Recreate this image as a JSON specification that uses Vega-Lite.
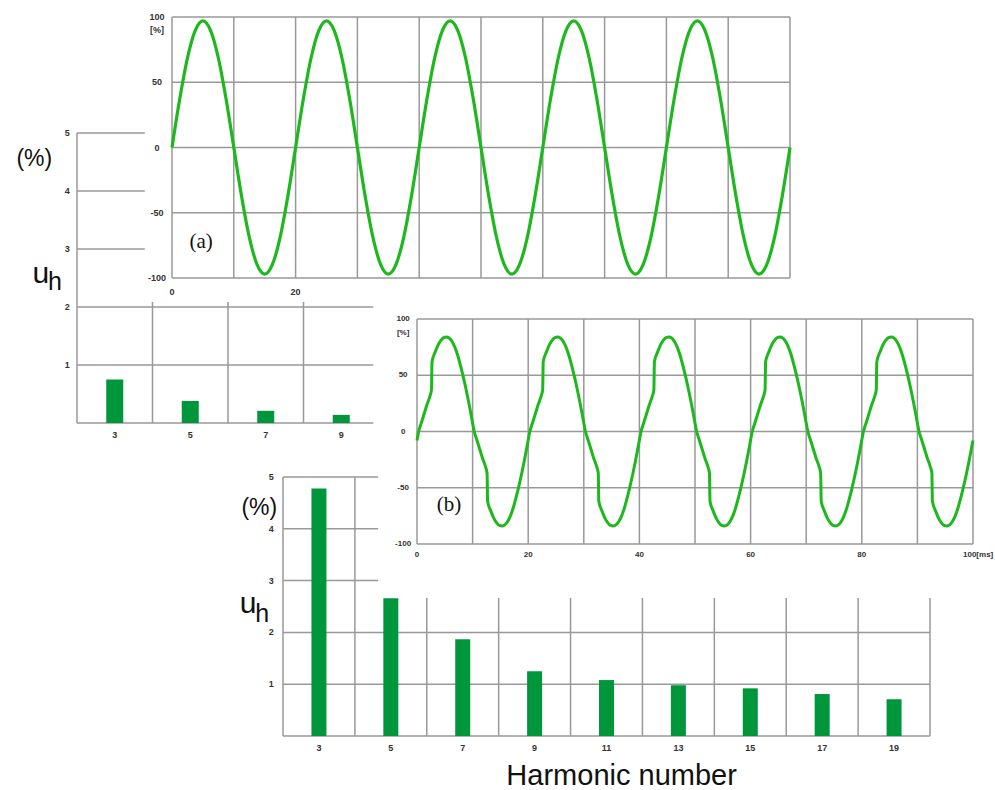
{
  "$schema": "https://vega.github.io/schema/vega-lite/v6.json",
  "width": 995,
  "height": 790,
  "padding": 0,
  "autosize": "none",
  "background": "white",
  "config": {"view": {"stroke": null}, "axis": {"disable": true}, "text": {"font": "Liberation Sans"}},
  "datasets": {
    "barsA": [{"h":3,"u":0.75},{"h":5,"u":0.38},{"h":7,"u":0.21},{"h":9,"u":0.14}],
    "barsB": [{"h":3,"u":4.78},{"h":5,"u":2.66},{"h":7,"u":1.87},{"h":9,"u":1.25},{"h":11,"u":1.08},{"h":13,"u":0.98},{"h":15,"u":0.92},{"h":17,"u":0.81},{"h":19,"u":0.71}],
    "waveA": [
      {"t":0,"v":0},{"t":1.25,"v":37.1},{"t":2.5,"v":68.6},{"t":3.75,"v":89.6},{"t":5,"v":97},{"t":6.25,"v":89.6},{"t":7.5,"v":68.6},{"t":8.75,"v":37.1},
      {"t":10,"v":0},{"t":11.25,"v":-37.1},{"t":12.5,"v":-68.6},{"t":13.75,"v":-89.6},{"t":15,"v":-97},{"t":16.25,"v":-89.6},{"t":17.5,"v":-68.6},{"t":18.75,"v":-37.1},
      {"t":20,"v":0},{"t":21.25,"v":37.1},{"t":22.5,"v":68.6},{"t":23.75,"v":89.6},{"t":25,"v":97},{"t":26.25,"v":89.6},{"t":27.5,"v":68.6},{"t":28.75,"v":37.1},
      {"t":30,"v":0},{"t":31.25,"v":-37.1},{"t":32.5,"v":-68.6},{"t":33.75,"v":-89.6},{"t":35,"v":-97},{"t":36.25,"v":-89.6},{"t":37.5,"v":-68.6},{"t":38.75,"v":-37.1},
      {"t":40,"v":0},{"t":41.25,"v":37.1},{"t":42.5,"v":68.6},{"t":43.75,"v":89.6},{"t":45,"v":97},{"t":46.25,"v":89.6},{"t":47.5,"v":68.6},{"t":48.75,"v":37.1},
      {"t":50,"v":0},{"t":51.25,"v":-37.1},{"t":52.5,"v":-68.6},{"t":53.75,"v":-89.6},{"t":55,"v":-97},{"t":56.25,"v":-89.6},{"t":57.5,"v":-68.6},{"t":58.75,"v":-37.1},
      {"t":60,"v":0},{"t":61.25,"v":37.1},{"t":62.5,"v":68.6},{"t":63.75,"v":89.6},{"t":65,"v":97},{"t":66.25,"v":89.6},{"t":67.5,"v":68.6},{"t":68.75,"v":37.1},
      {"t":70,"v":0},{"t":71.25,"v":-37.1},{"t":72.5,"v":-68.6},{"t":73.75,"v":-89.6},{"t":75,"v":-97},{"t":76.25,"v":-89.6},{"t":77.5,"v":-68.6},{"t":78.75,"v":-37.1},
      {"t":80,"v":0},{"t":81.25,"v":37.1},{"t":82.5,"v":68.6},{"t":83.75,"v":89.6},{"t":85,"v":97},{"t":86.25,"v":89.6},{"t":87.5,"v":68.6},{"t":88.75,"v":37.1},
      {"t":90,"v":0},{"t":91.25,"v":-37.1},{"t":92.5,"v":-68.6},{"t":93.75,"v":-89.6},{"t":95,"v":-97},{"t":96.25,"v":-89.6},{"t":97.5,"v":-68.6},{"t":98.75,"v":-37.1},
      {"t":100,"v":0}
    ],
    "waveB": [
      {"t":0,"v":-8},
      {"t":0.3,"v":0},{"t":0.8,"v":8},{"t":1.3,"v":16},{"t":1.8,"v":24},{"t":2.3,"v":31},{"t":2.6,"v":37},{"t":2.7,"v":62},{"t":3.3,"v":71},{"t":3.8,"v":77},{"t":4.3,"v":81},{"t":4.8,"v":83.5},{"t":5.3,"v":84},{"t":5.8,"v":83},{"t":6.3,"v":80},{"t":6.8,"v":75},{"t":7.3,"v":68},{"t":7.8,"v":59},{"t":8.3,"v":49},{"t":8.8,"v":38},{"t":9.3,"v":26},{"t":9.8,"v":13},
      {"t":10.3,"v":0},{"t":10.8,"v":-8},{"t":11.3,"v":-16},{"t":11.8,"v":-24},{"t":12.3,"v":-31},{"t":12.6,"v":-37},{"t":12.7,"v":-62},{"t":13.3,"v":-71},{"t":13.8,"v":-77},{"t":14.3,"v":-81},{"t":14.8,"v":-83.5},{"t":15.3,"v":-84},{"t":15.8,"v":-83},{"t":16.3,"v":-80},{"t":16.8,"v":-75},{"t":17.3,"v":-68},{"t":17.8,"v":-59},{"t":18.3,"v":-49},{"t":18.8,"v":-38},{"t":19.3,"v":-26},{"t":19.8,"v":-13},
      {"t":20.3,"v":0},{"t":20.8,"v":8},{"t":21.3,"v":16},{"t":21.8,"v":24},{"t":22.3,"v":31},{"t":22.6,"v":37},{"t":22.7,"v":62},{"t":23.3,"v":71},{"t":23.8,"v":77},{"t":24.3,"v":81},{"t":24.8,"v":83.5},{"t":25.3,"v":84},{"t":25.8,"v":83},{"t":26.3,"v":80},{"t":26.8,"v":75},{"t":27.3,"v":68},{"t":27.8,"v":59},{"t":28.3,"v":49},{"t":28.8,"v":38},{"t":29.3,"v":26},{"t":29.8,"v":13},
      {"t":30.3,"v":0},{"t":30.8,"v":-8},{"t":31.3,"v":-16},{"t":31.8,"v":-24},{"t":32.3,"v":-31},{"t":32.6,"v":-37},{"t":32.7,"v":-62},{"t":33.3,"v":-71},{"t":33.8,"v":-77},{"t":34.3,"v":-81},{"t":34.8,"v":-83.5},{"t":35.3,"v":-84},{"t":35.8,"v":-83},{"t":36.3,"v":-80},{"t":36.8,"v":-75},{"t":37.3,"v":-68},{"t":37.8,"v":-59},{"t":38.3,"v":-49},{"t":38.8,"v":-38},{"t":39.3,"v":-26},{"t":39.8,"v":-13},
      {"t":40.3,"v":0},{"t":40.8,"v":8},{"t":41.3,"v":16},{"t":41.8,"v":24},{"t":42.3,"v":31},{"t":42.6,"v":37},{"t":42.7,"v":62},{"t":43.3,"v":71},{"t":43.8,"v":77},{"t":44.3,"v":81},{"t":44.8,"v":83.5},{"t":45.3,"v":84},{"t":45.8,"v":83},{"t":46.3,"v":80},{"t":46.8,"v":75},{"t":47.3,"v":68},{"t":47.8,"v":59},{"t":48.3,"v":49},{"t":48.8,"v":38},{"t":49.3,"v":26},{"t":49.8,"v":13},
      {"t":50.3,"v":0},{"t":50.8,"v":-8},{"t":51.3,"v":-16},{"t":51.8,"v":-24},{"t":52.3,"v":-31},{"t":52.6,"v":-37},{"t":52.7,"v":-62},{"t":53.3,"v":-71},{"t":53.8,"v":-77},{"t":54.3,"v":-81},{"t":54.8,"v":-83.5},{"t":55.3,"v":-84},{"t":55.8,"v":-83},{"t":56.3,"v":-80},{"t":56.8,"v":-75},{"t":57.3,"v":-68},{"t":57.8,"v":-59},{"t":58.3,"v":-49},{"t":58.8,"v":-38},{"t":59.3,"v":-26},{"t":59.8,"v":-13},
      {"t":60.3,"v":0},{"t":60.8,"v":8},{"t":61.3,"v":16},{"t":61.8,"v":24},{"t":62.3,"v":31},{"t":62.6,"v":37},{"t":62.7,"v":62},{"t":63.3,"v":71},{"t":63.8,"v":77},{"t":64.3,"v":81},{"t":64.8,"v":83.5},{"t":65.3,"v":84},{"t":65.8,"v":83},{"t":66.3,"v":80},{"t":66.8,"v":75},{"t":67.3,"v":68},{"t":67.8,"v":59},{"t":68.3,"v":49},{"t":68.8,"v":38},{"t":69.3,"v":26},{"t":69.8,"v":13},
      {"t":70.3,"v":0},{"t":70.8,"v":-8},{"t":71.3,"v":-16},{"t":71.8,"v":-24},{"t":72.3,"v":-31},{"t":72.6,"v":-37},{"t":72.7,"v":-62},{"t":73.3,"v":-71},{"t":73.8,"v":-77},{"t":74.3,"v":-81},{"t":74.8,"v":-83.5},{"t":75.3,"v":-84},{"t":75.8,"v":-83},{"t":76.3,"v":-80},{"t":76.8,"v":-75},{"t":77.3,"v":-68},{"t":77.8,"v":-59},{"t":78.3,"v":-49},{"t":78.8,"v":-38},{"t":79.3,"v":-26},{"t":79.8,"v":-13},
      {"t":80.3,"v":0},{"t":80.8,"v":8},{"t":81.3,"v":16},{"t":81.8,"v":24},{"t":82.3,"v":31},{"t":82.6,"v":37},{"t":82.7,"v":62},{"t":83.3,"v":71},{"t":83.8,"v":77},{"t":84.3,"v":81},{"t":84.8,"v":83.5},{"t":85.3,"v":84},{"t":85.8,"v":83},{"t":86.3,"v":80},{"t":86.8,"v":75},{"t":87.3,"v":68},{"t":87.8,"v":59},{"t":88.3,"v":49},{"t":88.8,"v":38},{"t":89.3,"v":26},{"t":89.8,"v":13},
      {"t":90.3,"v":0},{"t":90.8,"v":-8},{"t":91.3,"v":-16},{"t":91.8,"v":-24},{"t":92.3,"v":-31},{"t":92.6,"v":-37},{"t":92.7,"v":-62},{"t":93.3,"v":-71},{"t":93.8,"v":-77},{"t":94.3,"v":-81},{"t":94.8,"v":-83.5},{"t":95.3,"v":-84},{"t":95.8,"v":-83},{"t":96.3,"v":-80},{"t":96.8,"v":-75},{"t":97.3,"v":-68},{"t":97.8,"v":-59},{"t":98.3,"v":-49},{"t":98.8,"v":-38},{"t":99.3,"v":-26},{"t":99.8,"v":-13},
      {"t":100,"v":-8}
    ]
  },
  "layer": [
    {
      "layer": [
        {"data": {"values": [{"v":0},{"v":1},{"v":2},{"v":3},{"v":4},{"v":5}]},
         "mark": {"type":"rule","stroke":"#999999","strokeWidth":1.5},
         "encoding": {"y": {"field":"v","type":"quantitative","scale":{"domain":[0,5],"range":[423,133],"nice":false,"zero":false}},
                      "x": {"datum":2,"scale":{"domain":[2,10],"range":[72,384],"nice":false,"zero":false}},
                      "x2": {"datum":9.85}}},
        {"data": {"values": [{"h":2},{"h":4},{"h":6},{"h":8}]},
         "mark": {"type":"rule","stroke":"#999999","strokeWidth":1.5},
         "encoding": {"x": {"field":"h","type":"quantitative","scale":{"domain":[2,10],"range":[72,384],"nice":false,"zero":false}},
                      "y": {"datum":0,"scale":{"domain":[0,5],"range":[423,133],"nice":false,"zero":false}},
                      "y2": {"datum":5}}},
        {"data": {"name":"barsA"},
         "mark": {"type":"bar","size":17,"color":"#00963c"},
         "encoding": {"x": {"field":"h","type":"quantitative","scale":{"domain":[2,10],"range":[72,384],"nice":false,"zero":false}},
                      "y": {"field":"u","type":"quantitative","scale":{"domain":[0,5],"range":[423,133],"nice":false,"zero":false}},
                      "y2": {"datum":0}}},
        {"data": {"values": [{"v":1,"lab":"1"},{"v":2,"lab":"2"},{"v":3,"lab":"3"},{"v":4,"lab":"4"},{"v":5,"lab":"5"}]},
         "mark": {"type":"text","fontSize":9,"fontWeight":"bold","color":"#333333","align":"center","baseline":"middle"},
         "encoding": {"y": {"field":"v","type":"quantitative","scale":{"domain":[0,5],"range":[423,133],"nice":false,"zero":false}},
                      "x": {"datum":1.74,"scale":{"domain":[2,10],"range":[72,384],"nice":false,"zero":false}},
                      "text": {"field":"lab","type":"nominal"}}},
        {"data": {"values": [{"h":3,"lab":"3"},{"h":5,"lab":"5"},{"h":7,"lab":"7"},{"h":9,"lab":"9"}]},
         "mark": {"type":"text","fontSize":9,"fontWeight":"bold","color":"#333333","align":"center","baseline":"middle"},
         "encoding": {"x": {"field":"h","type":"quantitative","scale":{"domain":[2,10],"range":[72,384],"nice":false,"zero":false}},
                      "y": {"datum":-0.2,"scale":{"domain":[0,5],"range":[423,133],"nice":false,"zero":false}},
                      "text": {"field":"lab","type":"nominal"}}},
        {"data": {"values": [{"lab":"(%)"}]},
         "mark": {"type":"text","fontSize":23,"color":"#111111","align":"center","baseline":"middle"},
         "encoding": {"x": {"datum":0.87,"scale":{"domain":[2,10],"range":[72,384],"nice":false,"zero":false}},
                      "y": {"datum":4.55,"scale":{"domain":[0,5],"range":[423,133],"nice":false,"zero":false}},
                      "text": {"field":"lab","type":"nominal"}}},
        {"data": {"values": [{"lab":"u"}]},
         "mark": {"type":"text","fontSize":30,"color":"#111111","align":"center","baseline":"alphabetic"},
         "encoding": {"x": {"datum":1.04,"scale":{"domain":[2,10],"range":[72,384],"nice":false,"zero":false}},
                      "y": {"datum":2.41,"scale":{"domain":[0,5],"range":[423,133],"nice":false,"zero":false}},
                      "text": {"field":"lab","type":"nominal"}}},
        {"data": {"values": [{"lab":"h"}]},
         "mark": {"type":"text","fontSize":25,"color":"#111111","align":"left","baseline":"alphabetic"},
         "encoding": {"x": {"datum":1.23,"scale":{"domain":[2,10],"range":[72,384],"nice":false,"zero":false}},
                      "y": {"datum":2.29,"scale":{"domain":[0,5],"range":[423,133],"nice":false,"zero":false}},
                      "text": {"field":"lab","type":"nominal"}}}
      ]
    },
    {
      "layer": [
        {"data": {"values": [{"v":0},{"v":1},{"v":2},{"v":3},{"v":4},{"v":5}]},
         "mark": {"type":"rule","stroke":"#999999","strokeWidth":1.5},
         "encoding": {"y": {"field":"v","type":"quantitative","scale":{"domain":[0,5],"range":[736,477],"nice":false,"zero":false}},
                      "x": {"datum":2,"scale":{"domain":[2,20],"range":[278,935],"nice":false,"zero":false}},
                      "x2": {"datum":20}}},
        {"data": {"values": [{"h":2},{"h":4},{"h":6},{"h":8},{"h":10},{"h":12},{"h":14},{"h":16},{"h":18},{"h":20}]},
         "mark": {"type":"rule","stroke":"#999999","strokeWidth":1.5},
         "encoding": {"x": {"field":"h","type":"quantitative","scale":{"domain":[2,20],"range":[278,935],"nice":false,"zero":false}},
                      "y": {"datum":0,"scale":{"domain":[0,5],"range":[736,477],"nice":false,"zero":false}},
                      "y2": {"datum":5}}},
        {"data": {"name":"barsB"},
         "mark": {"type":"bar","size":15,"color":"#00963c"},
         "encoding": {"x": {"field":"h","type":"quantitative","scale":{"domain":[2,20],"range":[278,935],"nice":false,"zero":false}},
                      "y": {"field":"u","type":"quantitative","scale":{"domain":[0,5],"range":[736,477],"nice":false,"zero":false}},
                      "y2": {"datum":0}}},
        {"data": {"values": [{"v":1,"lab":"1"},{"v":2,"lab":"2"},{"v":3,"lab":"3"},{"v":4,"lab":"4"},{"v":5,"lab":"5"}]},
         "mark": {"type":"text","fontSize":9,"fontWeight":"bold","color":"#333333","align":"center","baseline":"middle"},
         "encoding": {"y": {"field":"v","type":"quantitative","scale":{"domain":[0,5],"range":[736,477],"nice":false,"zero":false}},
                      "x": {"datum":1.67,"scale":{"domain":[2,20],"range":[278,935],"nice":false,"zero":false}},
                      "text": {"field":"lab","type":"nominal"}}},
        {"data": {"values": [{"h":3,"lab":"3"},{"h":5,"lab":"5"},{"h":7,"lab":"7"},{"h":9,"lab":"9"},{"h":11,"lab":"11"},{"h":13,"lab":"13"},{"h":15,"lab":"15"},{"h":17,"lab":"17"},{"h":19,"lab":"19"}]},
         "mark": {"type":"text","fontSize":9,"fontWeight":"bold","color":"#333333","align":"center","baseline":"middle"},
         "encoding": {"x": {"field":"h","type":"quantitative","scale":{"domain":[2,20],"range":[278,935],"nice":false,"zero":false}},
                      "y": {"datum":-0.23,"scale":{"domain":[0,5],"range":[736,477],"nice":false,"zero":false}},
                      "text": {"field":"lab","type":"nominal"}}},
        {"data": {"values": [{"lab":"(%)"}]},
         "mark": {"type":"text","fontSize":23,"color":"#111111","align":"center","baseline":"middle"},
         "encoding": {"x": {"datum":1.34,"scale":{"domain":[2,20],"range":[278,935],"nice":false,"zero":false}},
                      "y": {"datum":4.40,"scale":{"domain":[0,5],"range":[736,477],"nice":false,"zero":false}},
                      "text": {"field":"lab","type":"nominal"}}},
        {"data": {"values": [{"lab":"u"}]},
         "mark": {"type":"text","fontSize":30,"color":"#111111","align":"center","baseline":"alphabetic"},
         "encoding": {"x": {"datum":1.03,"scale":{"domain":[2,20],"range":[278,935],"nice":false,"zero":false}},
                      "y": {"datum":2.37,"scale":{"domain":[0,5],"range":[736,477],"nice":false,"zero":false}},
                      "text": {"field":"lab","type":"nominal"}}},
        {"data": {"values": [{"lab":"h"}]},
         "mark": {"type":"text","fontSize":25,"color":"#111111","align":"left","baseline":"alphabetic"},
         "encoding": {"x": {"datum":1.23,"scale":{"domain":[2,20],"range":[278,935],"nice":false,"zero":false}},
                      "y": {"datum":2.20,"scale":{"domain":[0,5],"range":[736,477],"nice":false,"zero":false}},
                      "text": {"field":"lab","type":"nominal"}}},
        {"data": {"values": [{"lab":"Harmonic number"}]},
         "mark": {"type":"text","fontSize":29,"color":"#111111","align":"center","baseline":"alphabetic"},
         "encoding": {"x": {"datum":11.42,"scale":{"domain":[2,20],"range":[278,935],"nice":false,"zero":false}},
                      "y": {"datum":-0.95,"scale":{"domain":[0,5],"range":[736,477],"nice":false,"zero":false}},
                      "text": {"field":"lab","type":"nominal"}}}
      ]
    },
    {
      "layer": [
        {"data": {"values": [{}]},
         "mark": {"type":"rect","fill":"white","stroke":null},
         "encoding": {"x": {"datum":-4.4,"scale":{"domain":[0,100],"range":[172,790],"nice":false,"zero":false}},
                      "x2": {"datum":101.6},
                      "y": {"datum":113,"scale":{"domain":[-100,100],"range":[278,17],"nice":false,"zero":false}},
                      "y2": {"datum":-118.4}}},
        {"data": {"values": [{"v":-100},{"v":-50},{"v":0},{"v":50},{"v":100}]},
         "mark": {"type":"rule","stroke":"#999999","strokeWidth":1.5},
         "encoding": {"y": {"field":"v","type":"quantitative","scale":{"domain":[-100,100],"range":[278,17],"nice":false,"zero":false}},
                      "x": {"datum":0,"scale":{"domain":[0,100],"range":[172,790],"nice":false,"zero":false}},
                      "x2": {"datum":100}}},
        {"data": {"values": [{"t":0},{"t":10},{"t":20},{"t":30},{"t":40},{"t":50},{"t":60},{"t":70},{"t":80},{"t":90},{"t":100}]},
         "mark": {"type":"rule","stroke":"#999999","strokeWidth":1.5},
         "encoding": {"x": {"field":"t","type":"quantitative","scale":{"domain":[0,100],"range":[172,790],"nice":false,"zero":false}},
                      "y": {"datum":-100,"scale":{"domain":[-100,100],"range":[278,17],"nice":false,"zero":false}},
                      "y2": {"datum":100}}},
        {"data": {"name":"waveA"},
         "mark": {"type":"line","color":"#1cb81c","strokeWidth":3.2,"interpolate":"monotone"},
         "encoding": {"x": {"field":"t","type":"quantitative","scale":{"domain":[0,100],"range":[172,790],"nice":false,"zero":false}},
                      "y": {"field":"v","type":"quantitative","scale":{"domain":[-100,100],"range":[278,17],"nice":false,"zero":false}}}},
        {"data": {"values": [{"v":100,"lab":"100"},{"v":90,"lab":"[%]"},{"v":50,"lab":"50"},{"v":0,"lab":"0"},{"v":-50,"lab":"-50"},{"v":-100,"lab":"-100"}]},
         "mark": {"type":"text","fontSize":9,"fontWeight":"bold","color":"#333333","align":"center","baseline":"middle"},
         "encoding": {"y": {"field":"v","type":"quantitative","scale":{"domain":[-100,100],"range":[278,17],"nice":false,"zero":false}},
                      "x": {"datum":-2.43,"scale":{"domain":[0,100],"range":[172,790],"nice":false,"zero":false}},
                      "text": {"field":"lab","type":"nominal"}}},
        {"data": {"values": [{"t":0,"lab":"0"},{"t":20,"lab":"20"}]},
         "mark": {"type":"text","fontSize":9,"fontWeight":"bold","color":"#333333","align":"center","baseline":"middle"},
         "encoding": {"x": {"field":"t","type":"quantitative","scale":{"domain":[0,100],"range":[172,790],"nice":false,"zero":false}},
                      "y": {"datum":-110.7,"scale":{"domain":[-100,100],"range":[278,17],"nice":false,"zero":false}},
                      "text": {"field":"lab","type":"nominal"}}},
        {"data": {"values": [{"lab":"(a)"}]},
         "mark": {"type":"text","fontSize":21,"font":"Liberation Serif","color":"#111111","align":"center","baseline":"middle"},
         "encoding": {"x": {"datum":4.7,"scale":{"domain":[0,100],"range":[172,790],"nice":false,"zero":false}},
                      "y": {"datum":-72.4,"scale":{"domain":[-100,100],"range":[278,17],"nice":false,"zero":false}},
                      "text": {"field":"lab","type":"nominal"}}}
      ]
    },
    {
      "layer": [
        {"data": {"values": [{}]},
         "mark": {"type":"rect","fill":"white","stroke":null},
         "encoding": {"x": {"datum":-7.0,"scale":{"domain":[0,100],"range":[417,973],"nice":false,"zero":false}},
                      "x2": {"datum":104},
                      "y": {"datum":116.9,"scale":{"domain":[-100,100],"range":[544,319],"nice":false,"zero":false}},
                      "y2": {"datum":-148}}},
        {"data": {"values": [{"v":-100},{"v":-50},{"v":0},{"v":50},{"v":100}]},
         "mark": {"type":"rule","stroke":"#999999","strokeWidth":1.5},
         "encoding": {"y": {"field":"v","type":"quantitative","scale":{"domain":[-100,100],"range":[544,319],"nice":false,"zero":false}},
                      "x": {"datum":0,"scale":{"domain":[0,100],"range":[417,973],"nice":false,"zero":false}},
                      "x2": {"datum":100}}},
        {"data": {"values": [{"t":0},{"t":10},{"t":20},{"t":30},{"t":40},{"t":50},{"t":60},{"t":70},{"t":80},{"t":90},{"t":100}]},
         "mark": {"type":"rule","stroke":"#999999","strokeWidth":1.5},
         "encoding": {"x": {"field":"t","type":"quantitative","scale":{"domain":[0,100],"range":[417,973],"nice":false,"zero":false}},
                      "y": {"datum":-100,"scale":{"domain":[-100,100],"range":[544,319],"nice":false,"zero":false}},
                      "y2": {"datum":100}}},
        {"data": {"name":"waveB"},
         "mark": {"type":"line","color":"#1cb81c","strokeWidth":3,"interpolate":"monotone"},
         "encoding": {"x": {"field":"t","type":"quantitative","scale":{"domain":[0,100],"range":[417,973],"nice":false,"zero":false}},
                      "y": {"field":"v","type":"quantitative","scale":{"domain":[-100,100],"range":[544,319],"nice":false,"zero":false}}}},
        {"data": {"values": [{"v":100,"lab":"100"},{"v":87.6,"lab":"[%]"},{"v":50,"lab":"50"},{"v":0,"lab":"0"},{"v":-50,"lab":"-50"},{"v":-100,"lab":"-100"}]},
         "mark": {"type":"text","fontSize":8,"fontWeight":"bold","color":"#333333","align":"center","baseline":"middle"},
         "encoding": {"y": {"field":"v","type":"quantitative","scale":{"domain":[-100,100],"range":[544,319],"nice":false,"zero":false}},
                      "x": {"datum":-2.5,"scale":{"domain":[0,100],"range":[417,973],"nice":false,"zero":false}},
                      "text": {"field":"lab","type":"nominal"}}},
        {"data": {"values": [{"t":0,"lab":"0"},{"t":20,"lab":"20"},{"t":40,"lab":"40"},{"t":60,"lab":"60"},{"t":80,"lab":"80"}]},
         "mark": {"type":"text","fontSize":8,"fontWeight":"bold","color":"#333333","align":"center","baseline":"middle"},
         "encoding": {"x": {"field":"t","type":"quantitative","scale":{"domain":[0,100],"range":[417,973],"nice":false,"zero":false}},
                      "y": {"datum":-109.8,"scale":{"domain":[-100,100],"range":[544,319],"nice":false,"zero":false}},
                      "text": {"field":"lab","type":"nominal"}}},
        {"data": {"values": [{"t":100,"lab":"100[ms]"}]},
         "mark": {"type":"text","fontSize":8,"fontWeight":"bold","color":"#333333","align":"left","baseline":"middle","dx":-10},
         "encoding": {"x": {"field":"t","type":"quantitative","scale":{"domain":[0,100],"range":[417,973],"nice":false,"zero":false}},
                      "y": {"datum":-109.8,"scale":{"domain":[-100,100],"range":[544,319],"nice":false,"zero":false}},
                      "text": {"field":"lab","type":"nominal"}}},
        {"data": {"values": [{"lab":"(b)"}]},
         "mark": {"type":"text","fontSize":21,"font":"Liberation Serif","color":"#111111","align":"center","baseline":"middle"},
         "encoding": {"x": {"datum":5.75,"scale":{"domain":[0,100],"range":[417,973],"nice":false,"zero":false}},
                      "y": {"datum":-65.3,"scale":{"domain":[-100,100],"range":[544,319],"nice":false,"zero":false}},
                      "text": {"field":"lab","type":"nominal"}}}
      ]
    }
  ],
  "resolve": {"scale": {"x": "independent", "y": "independent"}}
}
